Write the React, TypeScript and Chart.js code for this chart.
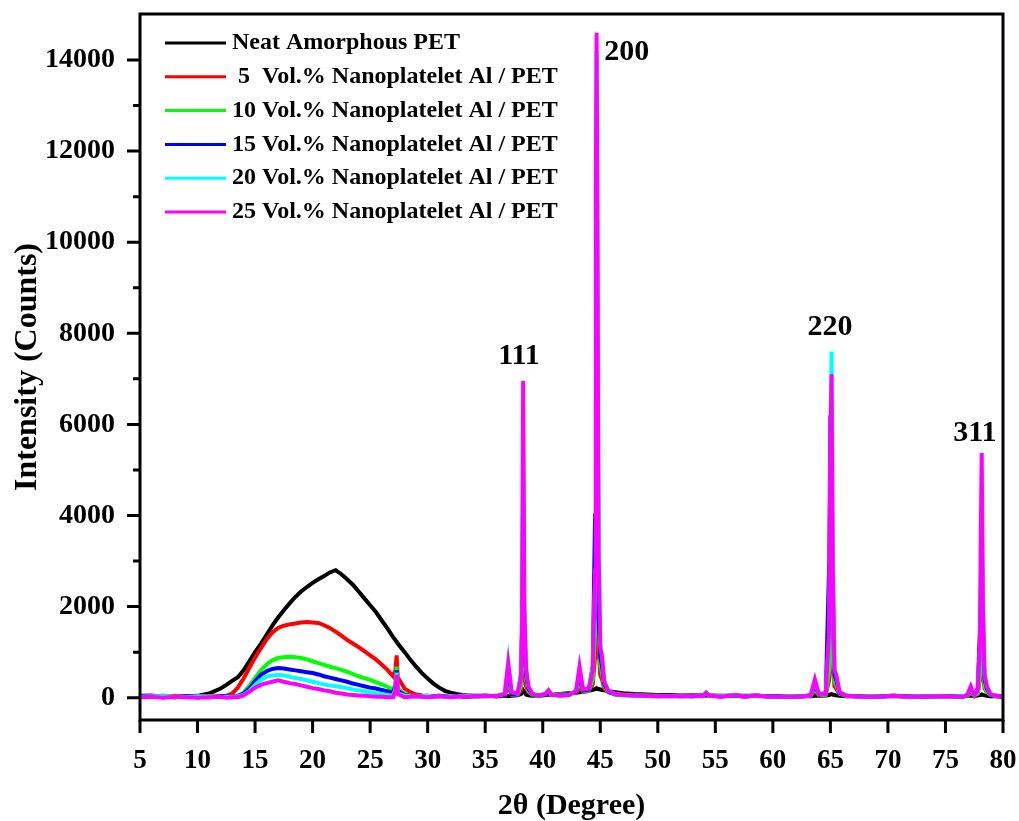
import React, { useEffect, useRef } from "react";
import { Chart, registerables } from "chart.js";

Chart.register(...registerables);

const FONT = "'Liberation Serif', 'Times New Roman', Times, serif";

// 2θ positions (degrees)
const twoTheta = [
  5, 6, 7, 8, 9, 10, 11, 12,
  12.5, 13, 13.5, 14, 14.5, 15, 15.5, 16, 16.5, 17, 17.5, 18, 18.5, 19, 19.5, 20, 20.5, 21, 21.5, 22, 22.5, 23, 23.5, 24, 24.5, 25, 25.5, 26, 26.5, 27,
  27.2, 27.3, 27.4,
  28, 28.5, 29, 29.5, 30, 30.5, 31, 31.5, 32, 32.5, 33, 33.5, 34,
  35, 36, 36.7, 37.0, 37.3,
  37.8, 38.1, 38.2, 38.3, 38.4,
  38.55, 38.75, 39.1, 39.6, 40.2,
  40.5, 40.8, 41.5, 42.3, 42.9,
  43.2, 43.5, 44.0, 44.35, 44.55,
  44.62, 44.68, 44.75, 44.85, 45.0,
  45.15, 45.35, 45.7, 46.3, 47,
  48, 49, 50, 51, 52,
  53, 53.9, 54.2, 54.5, 55.5,
  56.8, 57.5, 58.5, 59.5, 60.5,
  61.5, 62.5, 63.3, 63.65, 64.0,
  64.6, 64.9, 65.0, 65.1, 65.2,
  65.35, 65.5, 65.8, 66.4, 67.5,
  68.5, 69.5, 70.5, 71.5, 72.5,
  73.5, 74.5, 75.5, 76.5, 76.9,
  77.2, 77.5, 77.8, 78.0, 78.08,
  78.15, 78.25, 78.4, 78.6, 78.9,
  79.3, 80,
];

const neatPET = [
  30, 20, 40, 10, 30, 40, 90, 200,
  280, 370, 450, 600, 800, 1000, 1180, 1380, 1580, 1760, 1920, 2070, 2210, 2330, 2430, 2520, 2600, 2670, 2750, 2800, 2710, 2600, 2480, 2330, 2180, 2030, 1880, 1700, 1520, 1330,
  1260, 1230, 1190,
  1000, 830, 680, 540, 420, 310, 220, 150, 110, 80, 60, 50, 40,
  40, 30, 40, 30, 40,
  50, 80, 120, 160, 120,
  70, 50, 40, 50, 60,
  70, 60, 80, 100, 110,
  120, 130, 150, 170, 190,
  200, 210, 200, 190, 180,
  170, 160, 140, 120, 100,
  80, 70, 60, 60, 50,
  50, 50, 50, 50, 40,
  40, 40, 40, 30, 30,
  30, 30, 30, 40, 40,
  50, 60, 70, 80, 70,
  60, 50, 40, 30, 30,
  30, 30, 30, 30, 30,
  30, 30, 30, 30, 40,
  40, 40, 50, 60, 60,
  70, 60, 50, 40, 30,
  30, 20,
];

const al5 = [
  20, 30, 10, 40, 20, 30, 20, 30,
  40, 90, 220, 420, 650, 880, 1080, 1280, 1430, 1530, 1580, 1610, 1630, 1650, 1660, 1650, 1640, 1590, 1530, 1450, 1360, 1270, 1190, 1110, 1020, 930, 840, 730, 610, 470,
  600, 930, 450,
  200, 120, 70, 50, 40, 30, 40, 20, 30, 40, 20, 30, 20,
  40, 30, 50, 250, 60,
  60, 150, 500, 1500, 600,
  250, 120, 60, 50, 60,
  110, 60, 80, 90, 110,
  250, 130, 150, 300, 900,
  2500, 3000, 2400, 1100, 500,
  400, 200, 120, 90, 70,
  60, 50, 40, 40, 40,
  40, 40, 80, 40, 30,
  50, 30, 40, 30, 30,
  30, 30, 40, 150, 50,
  60, 400, 1100, 1450, 800,
  250, 200, 80, 40, 30,
  30, 30, 40, 30, 30,
  30, 30, 30, 30, 40,
  100, 50, 80, 400, 1000,
  1350, 600, 200, 120, 60,
  40, 30,
];

const al10 = [
  30, 10, 40, 20, 30, 10, 30, 20,
  20, 30, 40, 110, 260, 430, 600, 730, 820, 870, 890, 900, 890, 870, 840, 800, 760, 720, 680, 650, 610, 570, 520, 470, 430, 390, 340, 290, 240, 180,
  300, 680, 200,
  80, 50, 40, 30, 40, 20, 30, 40, 30, 20, 30, 40, 30,
  30, 40, 50, 400, 70,
  60, 250, 900, 3000, 1100,
  400, 150, 60, 40, 60,
  120, 50, 70, 80, 120,
  350, 140, 160, 400, 1500,
  4000, 5000, 3800, 1500, 700,
  550, 250, 120, 80, 60,
  50, 40, 40, 30, 40,
  30, 40, 90, 40, 30,
  50, 30, 40, 30, 20,
  30, 30, 40, 200, 60,
  70, 600, 1500, 2000, 1100,
  350, 280, 90, 40, 30,
  30, 30, 30, 30, 20,
  30, 30, 30, 30, 40,
  120, 50, 90, 500, 1300,
  1700, 800, 250, 130, 60,
  40, 30,
];

const al15 = [
  40, 50, 20, 10, 30, 20, 10, 30,
  30, 20, 40, 90, 200, 360, 500, 580, 630, 650, 640, 620, 600, 580, 560, 540, 510, 470, 440, 410, 380, 350, 310, 280, 250, 220, 200, 170, 140, 110,
  250, 600, 150,
  60, 40, 30, 40, 20, 30, 40, 30, 20, 40, 30, 20, 30,
  40, 30, 60, 600, 80,
  70, 500, 1500, 4500, 1500,
  500, 200, 70, 50, 60,
  140, 60, 60, 80, 130,
  500, 160, 180, 700, 4000,
  6500, 6300, 4500, 1800, 900,
  700, 300, 130, 70, 60,
  50, 40, 30, 40, 30,
  40, 30, 100, 40, 30,
  50, 20, 50, 30, 30,
  20, 30, 50, 300, 70,
  90, 3000, 6200, 5500, 2500,
  500, 400, 100, 40, 30,
  20, 30, 40, 30, 30,
  20, 30, 30, 20, 50,
  180, 60, 200, 1500, 2400,
  2300, 1200, 400, 200, 70,
  40, 30,
];

const al20 = [
  20, 30, 30, 20, 10, 30, 20, 10,
  20, 10, 30, 60, 150, 280, 390, 460, 490, 500, 490, 460, 430, 410, 380, 350, 320, 290, 270, 250, 230, 210, 180, 160, 140, 120, 100, 80, 60, 50,
  200, 550, 100,
  40, 30, 20, 30, 40, 20, 30, 20, 30, 20, 40, 30, 20,
  30, 40, 90, 800, 130,
  90, 450, 1700, 6500, 2200,
  700, 260, 90, 50, 80,
  170, 60, 40, 60, 160,
  650, 190, 210, 650, 2600,
  11000, 14200, 12500, 5000, 1200,
  950, 380, 150, 80, 60,
  40, 40, 30, 30, 30,
  20, 40, 120, 40, 30,
  60, 20, 50, 20, 20,
  30, 20, 60, 380, 80,
  100, 1400, 5000, 7600, 3800,
  650, 520, 130, 40, 20,
  30, 20, 40, 20, 30,
  20, 30, 20, 30, 60,
  230, 60, 150, 1100, 3200,
  4000, 2800, 520, 260, 80,
  40, 30,
];

const al25 = [
  10, 20, 0, 20, 10, 0, 10, 20,
  0, 10, 10, 50, 130, 220, 280, 320, 350, 380, 350, 320, 300, 270, 240, 210, 190, 160, 140, 110, 90, 70, 60, 50, 40, 30, 20, 20, 10, 10,
  150, 500, 80,
  10, 20, 30, 20, 10, 20, 30, 20, 10, 20, 30, 20, 30,
  30, 40, 80, 750, 120,
  90, 400, 1600, 6950, 2000,
  650, 250, 80, 50, 80,
  160, 60, 40, 60, 150,
  680, 180, 200, 600, 2800,
  11500, 14600, 10500, 3200, 1100,
  900, 350, 150, 80, 60,
  50, 40, 30, 30, 30,
  30, 40, 110, 40, 20,
  60, 20, 50, 20, 20,
  20, 20, 60, 400, 80,
  100, 1500, 5500, 7100, 3000,
  600, 500, 120, 40, 20,
  20, 20, 40, 20, 20,
  20, 30, 20, 20, 60,
  250, 60, 150, 1200, 3800,
  5370, 2000, 500, 250, 80,
  40, 30,
];

const seriesLabels = [
  "Neat Amorphous PET",
  " 5  Vol.% Nanoplatelet Al / PET",
  "10 Vol.% Nanoplatelet Al / PET",
  "15 Vol.% Nanoplatelet Al / PET",
  "20 Vol.% Nanoplatelet Al / PET",
  "25 Vol.% Nanoplatelet Al / PET",
];
const seriesValues = [neatPET, al5, al10, al15, al20, al25];
const seriesColors = ["#000000", "#ff0000", "#00ff00", "#0000ff", "#00ffff", "#ff00ff"];

const xTickValues = [5, 10, 15, 20, 25, 30, 35, 40, 45, 50, 55, 60, 65, 70, 75, 80];
const yTickValues = [0, 2000, 4000, 6000, 8000, 10000, 12000, 14000];
const yMinorTickValues = [1000, 3000, 5000, 7000, 9000, 11000, 13000];

const peakLabels = ["111", "200", "220", "311"];
const peakLabelX = [37.94, 47.3, 64.96, 77.56];
const peakLabelY = [7500, 14175, 8140, 5810];

const framePlugin = {
  id: "frameAndTicks",
  afterDraw(chart: any) {
    const { ctx, chartArea } = chart;
    const xs = chart.scales.x;
    const ys = chart.scales.y;
    ctx.save();
    ctx.strokeStyle = "#000";
    ctx.lineWidth = 3;
    ctx.lineCap = "butt";
    ctx.strokeRect(chartArea.left, chartArea.top, chartArea.right - chartArea.left, chartArea.bottom - chartArea.top);
    ctx.beginPath();
    yTickValues.forEach((v) => {
      const y = ys.getPixelForValue(v);
      ctx.moveTo(chartArea.left - 13, y);
      ctx.lineTo(chartArea.left, y);
    });
    yMinorTickValues.forEach((v) => {
      const y = ys.getPixelForValue(v);
      ctx.moveTo(chartArea.left - 7, y);
      ctx.lineTo(chartArea.left, y);
    });
    xTickValues.forEach((v) => {
      const x = xs.getPixelForValue(v);
      ctx.moveTo(x, chartArea.bottom);
      ctx.lineTo(x, chartArea.bottom + 13);
    });
    ctx.stroke();

    // peak labels
    ctx.fillStyle = "#000";
    ctx.font = `bold 30px ${FONT}`;
    ctx.textAlign = "center";
    ctx.textBaseline = "middle";
    peakLabels.forEach((t, i) => {
      ctx.fillText(t, xs.getPixelForValue(peakLabelX[i]), ys.getPixelForValue(peakLabelY[i]));
    });

    // legend
    ctx.font = `bold 24px ${FONT}`;
    ctx.textAlign = "left";
    chart.data.datasets.forEach((ds: any, i: number) => {
      const y = chartArea.top + 29 + i * 33.8;
      ctx.strokeStyle = ds.borderColor;
      ctx.lineWidth = 3;
      ctx.beginPath();
      ctx.moveTo(chartArea.left + 25, y);
      ctx.lineTo(chartArea.left + 86, y);
      ctx.stroke();
      ctx.fillStyle = "#000";
      ctx.fillText(ds.label, chartArea.left + 92, y);
    });
    ctx.restore();
  },
};

export default function App() {
  const canvasRef = useRef<HTMLCanvasElement | null>(null);

  useEffect(() => {
    document.body.style.margin = "0";
    document.body.style.overflow = "hidden";
    const canvas = canvasRef.current;
    if (!canvas) return;

    const datasets = seriesValues.map((vals, i) => ({
      label: seriesLabels[i],
      data: twoTheta.map((x, j) => ({ x, y: vals[j] })),
      borderColor: seriesColors[i],
      backgroundColor: seriesColors[i],
      borderWidth: 4,
      pointRadius: 0,
      tension: 0,
      fill: false,
      order: seriesValues.length - i,
    }));

    const chart = new Chart(canvas, {
      type: "line",
      data: { datasets },
      options: {
        animation: false,
        responsive: false,
        devicePixelRatio: 1,
        layout: { padding: { left: 0, right: 16, top: 14, bottom: 0 } },
        plugins: {
          legend: { display: false },
          tooltip: { enabled: false },
        },
        scales: {
          x: {
            type: "linear",
            min: 5,
            max: 80,
            afterBuildTicks: (scale: any) => {
              scale.ticks = xTickValues.map((v) => ({ value: v }));
            },
            afterFit: (scale: any) => {
              scale.height = 101;
              scale.paddingLeft = 0;
              scale.paddingRight = 0;
              scale.paddingTop = 0;
              scale.paddingBottom = 0;
            },
            grid: { drawOnChartArea: false, drawTicks: true, tickLength: 13, tickColor: "rgba(0,0,0,0)" },
            border: { display: false },
            ticks: {
              autoSkip: false,
              maxRotation: 0,
              padding: 12,
              color: "#000",
              font: { family: FONT, size: 27, weight: "bold" },
              callback: (v: any) => String(v),
            },
            title: {
              display: true,
              text: "2θ (Degree)",
              color: "#000",
              font: { family: FONT, size: 30, weight: "bold" },
              padding: { top: 0, bottom: -3 },
            },
          },
          y: {
            type: "linear",
            min: -490,
            max: 15010,
            afterBuildTicks: (scale: any) => {
              scale.ticks = yTickValues.map((v) => ({ value: v }));
            },
            afterFit: (scale: any) => {
              scale.width = 140;
              scale.paddingLeft = 0;
              scale.paddingRight = 0;
              scale.paddingTop = 0;
              scale.paddingBottom = 0;
            },
            grid: { drawOnChartArea: false, drawTicks: true, tickLength: 13, tickColor: "rgba(0,0,0,0)" },
            border: { display: false },
            ticks: {
              autoSkip: false,
              padding: 12,
              color: "#000",
              font: { family: FONT, size: 28, weight: "bold" },
              callback: (v: any) => String(v),
            },
            title: {
              display: true,
              text: "Intensity (Counts)",
              color: "#000",
              font: { family: FONT, size: 32, weight: "bold" },
              padding: { top: 9, bottom: 0 },
            },
          },
        },
      },
      plugins: [framePlugin],
    } as any);

    return () => {
      chart.destroy();
    };
  }, []);

  return (
    <div style={{ width: 1019, height: 821 }}>
      <canvas ref={canvasRef} width={1019} height={821} style={{ display: "block" }} />
    </div>
  );
}
